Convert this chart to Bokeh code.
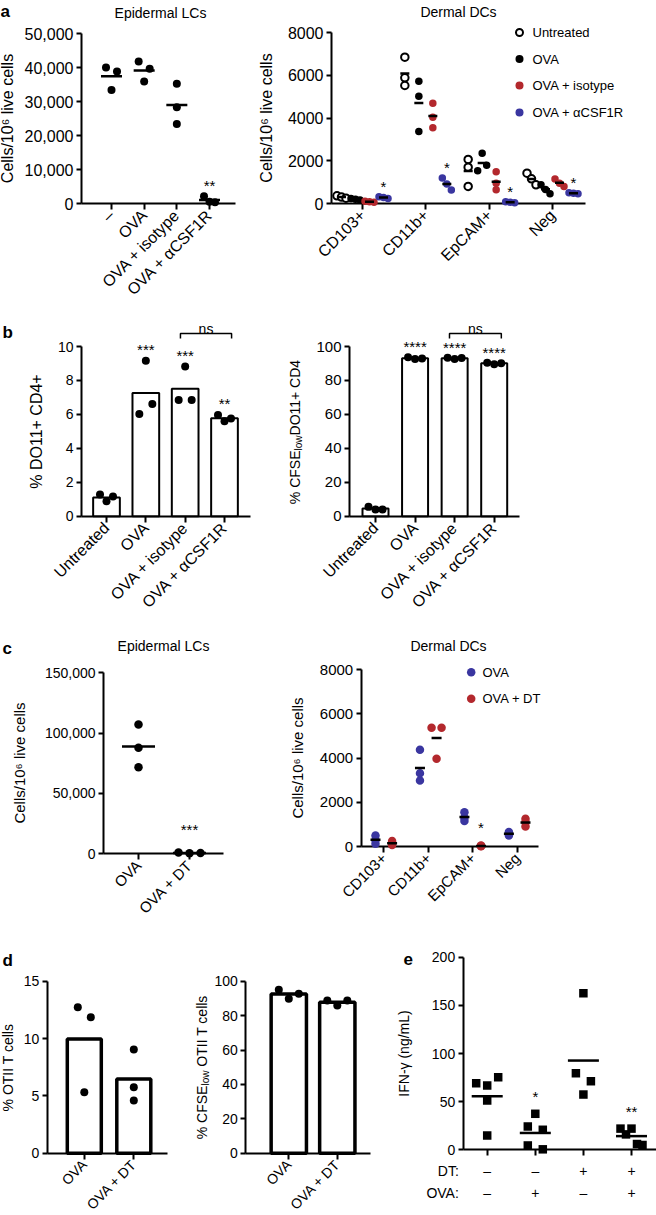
import math
from bokeh.plotting import figure
from bokeh.models import Range1d, FixedTicker, Label, LinearAxis, NumeralTickFormatter
from bokeh.layouts import row, column
from bokeh.embed import file_html
from bokeh.resources import INLINE
from bokeh.core.properties import value

FONT = "Liberation Sans"
RED = "#B3282D"
BLUE = "#3A36A0"

# ================= DATA =================
# (a) Epidermal LCs (cells / 10^6 live cells)
a_lc_groups = ["–", "OVA", "OVA + isotype", "OVA + αCSF1R"]
a_lc_cells = [[40000, 38800, 33400], [41800, 39600, 35900], [35200, 28300, 23400], [2150, 500, 400]]
a_lc_sig = ["", "", "", "**"]
a_lc_yticks = [0, 10000, 20000, 30000, 40000, 50000]

# (a) Dermal DCs
a_dc_cats = ["CD103+", "CD11b+", "EpCAM+", "Neg"]
a_dc_series = ["Untreated", "OVA", "OVA + isotype", "OVA + αCSF1R"]
a_dc_untreated = [[360, 300, 250], [6845, 5880, 5520], [2060, 1700, 800], [1420, 1155, 875]]
a_dc_ova = [[235, 200, 160], [5720, 5020, 3370], [2355, 1530, 1790], [875, 655, 455]]
a_dc_isotype = [[100, 80, 60], [4690, 4040, 3540], [1480, 950, 640], [1150, 950, 800]]
a_dc_acsf1r = [[310, 280, 235], [1190, 910, 630], [80, 60, 40], [500, 480, 460]]
a_dc_acsf1r_sig = ["*", "*", "*", "*"]
a_dc_yticks = [0, 2000, 4000, 6000, 8000]

# (b) T-cell responses
b_groups = ["Untreated", "OVA", "OVA + isotype", "OVA + αCSF1R"]
b_do11 = [[1.28, 0.88, 1.16], [6.02, 9.16, 6.61], [6.85, 8.82, 6.85], [5.96, 5.59, 5.76]]
b_do11_sig = ["", "***", "***", "**"]
b_do11_yticks = [0, 2, 4, 6, 8, 10]
b_cfse = [[5.5, 3.9, 4.0], [93.6, 92.6, 93.0], [93.4, 92.6, 93.2], [90.4, 89.6, 90.2]]
b_cfse_sig = ["", "****", "****", "****"]
b_cfse_yticks = [0, 20, 40, 60, 80, 100]

# (c) Epidermal LCs / Dermal DCs with DT
c_lc_groups = ["OVA", "OVA + DT"]
c_lc_cells = [[107150, 87850, 71770], [1000, 400, 700]]
c_lc_sig = ["", "***"]
c_lc_yticks = [0, 50000, 100000, 150000]

c_dc_cats = ["CD103+", "CD11b+", "EpCAM+", "Neg"]
c_dc_series = ["OVA", "OVA + DT"]
c_dc_ova = [[500, 280, 120], [4370, 2980, 3310], [1550, 1300, 1150], [650, 580, 500]]
c_dc_dt = [[250, 130, 70], [5365, 5365, 3970], [40, 20, 10], [1250, 1100, 900]]
c_dc_dt_sig = ["", "", "*", ""]
c_dc_yticks = [0, 2000, 4000, 6000, 8000]

# (d) OTII T cells
d_groups = ["OVA", "OVA + DT"]
d_otii = [[12.73, 11.86, 5.32], [9.04, 5.76, 4.6]]
d_otii_yticks = [0, 5, 10, 15]
d_cfse = [[95.0, 89.8, 92.7], [88.8, 85.9, 88.8]]
d_cfse_yticks = [0, 20, 40, 60, 80, 100]

# (e) IFN-gamma
e_dt = ["–", "–", "+", "+"]
e_ova = ["–", "+", "–", "+"]
e_ifng = [[69.2, 66.8, 75.4, 51.2, 14.8], [37.4, 24.2, 20.8, 4.5, 0.5], [162.6, 79.5, 71.2, 57.4], [22, 16, 22, 6, 5]]
e_sig = ["", "*", "", "**"]
e_yticks = [0, 50, 100, 150, 200]

# ================= helpers =================
ARIAL_W = {' ': 278, '%': 889, 'C': 722, 'F': 611, 'S': 667, 'E': 667, 'l': 222, 'o': 556, 'w': 722,
           'D': 722, 'O': 778, '1': 556, '+': 584, '4': 556, 'T': 611, 'I': 278, 'c': 500, 'e': 556, 's': 500}


def text_w(t, fs):
    return sum(ARIAL_W.get(ch, 556) for ch in t) / 1000.0 * fs


def mean(v):
    return sum(v) / len(v)


class Chart:
    """Figure covering a page box; axes are pinned at the given page pixel positions."""

    def __init__(self, box, axis_x, axis_y, xcal, ycal, xend, ytop, yticks, xlabels,
                 tick_fs, cat_fs, fmt=None, cat_standoff=3, cat_orient=math.pi / 4,
                 ylabel=None, ylabel_fs=15, ylabel_standoff=6):
        x0, y0, x1, y1 = box
        w = int(x1 - x0)
        h = int(y1 - y0)
        (xa, pa), (xb, pb) = xcal
        (ya, qa), (yb, qb) = ycal
        self.sx = (pb - pa) / (xb - xa)
        self.sy = (qa - qb) / (yb - ya)
        sx, sy = self.sx, self.sy
        self.X = lambda px: xa + (px - pa) / sx
        self.Y = lambda py: ya + (qa - py) / sy
        self.PY = lambda v: qa - (v - ya) * sy
        p = figure(width=w, height=h,
                   x_range=Range1d(self.X(x0), self.X(x0 + w)),
                   y_range=Range1d(self.Y(y0 + h), self.Y(y0)),
                   min_border_left=0, min_border_right=0, min_border_top=0, min_border_bottom=0,
                   output_backend="svg", toolbar_location=None, tools="")
        p.xgrid.visible = False
        p.ygrid.visible = False
        p.outline_line_color = None
        p.background_fill_color = "white"
        p.border_fill_color = "white"
        for ax in p.axis:
            ax.major_label_text_font = FONT
            ax.major_label_text_color = "black"
            ax.minor_tick_line_color = None
            ax.major_tick_line_color = "black"
            ax.major_tick_line_width = 2
            ax.axis_line_width = 2
            ax.axis_line_color = "black"
            ax.level = "underlay"
        xax = p.xaxis[0]
        xax.fixed_location = 0
        xax.bounds = (self.X(axis_x), self.X(xend))
        xax.ticker = FixedTicker(ticks=list(range(len(xlabels))))
        xax.major_label_overrides = {i: t for i, t in enumerate(xlabels)}
        xax.major_label_orientation = cat_orient
        xax.major_label_text_font_size = f"{cat_fs}px"
        xax.major_tick_in = 0
        xax.major_tick_out = 6
        xax.major_label_standoff = cat_standoff
        yax = p.yaxis[0]
        yax.fixed_location = self.X(axis_x)
        yax.ticker = FixedTicker(ticks=yticks)
        yax.bounds = (0, ytop)
        yax.major_tick_in = 0
        yax.major_tick_out = 5
        yax.major_label_standoff = 3
        yax.major_label_text_font_size = f"{tick_fs}px"
        if fmt:
            yax.formatter = NumeralTickFormatter(format=fmt)
        if ylabel:
            yax.axis_label = ylabel
            yax.axis_label_text_font = FONT
            yax.axis_label_text_font_style = "normal"
            yax.axis_label_text_font_size = f"{ylabel_fs}px"
            yax.axis_label_text_color = "black"
            yax.axis_label_standoff = ylabel_standoff
        self.p = p

    def swarm(self, vals, window, d, maxw):
        px = [self.PY(v) for v in vals]
        order = sorted(range(len(vals)), key=lambda i: px[i])
        clusters = [[order[0]]]
        for i in order[1:]:
            if px[i] - px[clusters[-1][-1]] < window:
                clusters[-1].append(i)
            else:
                clusters.append([i])
        offs = [0.0] * len(vals)
        for c in clusters:
            if len(c) < 2:
                continue
            c = sorted(c)
            W = min(maxw, d * (len(c) - 1))
            for k, i in enumerate(c):
                offs[i] = (-W / 2 + W * k / (len(c) - 1)) / self.sx
        return offs

    def dots(self, centers, groups, size, color, window, d, maxw, marker="circle", ring=False):
        xs, ys = [], []
        for c, vals in zip(centers, groups):
            for v, o in zip(vals, self.swarm(vals, window, d, maxw)):
                xs.append(c + o)
                ys.append(v)
        if ring:
            self.p.scatter(x=xs, y=ys, size=size, marker=marker, fill_color="white", line_color=color, line_width=2)
        else:
            self.p.scatter(x=xs, y=ys, size=size, marker=marker, fill_color=color, line_color=None)

    def means(self, centers, groups, half_px, lw=2.5):
        hw = half_px / self.sx
        ms = [mean(v) for v in groups]
        self.p.segment(x0=[c - hw for c in centers], x1=[c + hw for c in centers], y0=ms, y1=ms,
                       line_color="black", line_width=lw)

    def bars(self, centers, groups, width_px, lw):
        ms = [mean(v) for v in groups]
        self.p.vbar(x=list(centers), top=ms, bottom=0, width=width_px / self.sx,
                    fill_color="white", line_color="black", line_width=lw)

    def stars(self, centers, groups, sig, off_px, fs=15, bars=False):
        xs, ys, ts = [], [], []
        for c, vals, s in zip(centers, groups, sig):
            if not s:
                continue
            top = max(vals)
            if bars:
                top = max(top, mean(vals))
            cy = self.PY(top) - off_px
            xs.append(c)
            ys.append(self.Y(cy + 0.17 * fs))
            ts.append(s)
        self.p.text(x=xs, y=ys, text=ts, text_font=value(FONT), text_font_size=value(f"{fs}px"),
                    text_align="center", text_baseline="alphabetic", text_color="black")

    def label(self, px, py, text, fs, align="center", baseline="middle", angle=0.0, bold=False):
        self.p.add_layout(Label(x=self.X(px), y=self.Y(py), text=text, text_font=FONT,
                                text_font_size=f"{fs}px", text_align=align, text_baseline=baseline,
                                angle=angle, text_font_style="bold" if bold else "normal",
                                text_color="black"))

    def ylabel_parts(self, cx, cy, parts, fs, sub_fs):
        ws = []
        for t, sub, gap in parts:
            ws.append((gap * fs, text_w(t, sub_fs if sub else fs)))
        L = sum(g + w for g, w in ws)
        pos = cy + L / 2
        for (t, sub, gap), (g, w) in zip(parts, ws):
            pos -= g
            self.label(cx + (4 if sub else 0), pos, t, sub_fs if sub else fs, align="left", angle=math.pi / 2)
            pos -= w

    def bracket(self, xl, xr, py_top, tip, text, fs=14):
        yt, yb = self.Y(py_top), self.Y(py_top + tip)
        self.p.line(x=[xl, xl, xr, xr], y=[yb, yt, yt, yb], line_color="black", line_width=1.5)
        self.p.add_layout(Label(x=(xl + xr) / 2, y=self.Y(py_top - 5), text=text, text_font=FONT,
                                text_font_size=f"{fs}px", text_align="center", text_baseline="alphabetic",
                                text_color="black"))

    def legend(self, mx, tx, ys, names, styles, fs=13, size=8):
        for y, name, (color, ring) in zip(ys, names, styles):
            if ring:
                self.p.scatter(x=[self.X(mx)], y=[self.Y(y)], size=size - 1, fill_color="white",
                               line_color=color, line_width=2)
            else:
                self.p.scatter(x=[self.X(mx)], y=[self.Y(y)], size=size, fill_color=color, line_color=None)
            self.label(tx, y, name, fs, align="left")


CELLS = "Cells/10⁶ live cells"

# ================= (a) =================
A1 = Chart(box=(0, 0, 258, 306), axis_x=81, axis_y=203, xcal=((0, 111), (3, 209)),
           ycal=((0, 203), (50000, 33)), xend=235, ytop=50000, yticks=a_lc_yticks,
           xlabels=a_lc_groups, tick_fs=16, cat_fs=16, fmt="0,0",
           ylabel=CELLS, ylabel_fs=16, ylabel_standoff=6)
gA1 = list(range(len(a_lc_groups)))
A1.dots(gA1, a_lc_cells, 8, "black", window=10, d=11, maxw=11)
A1.means(gA1, a_lc_cells, half_px=10.5)
A1.stars(gA1, a_lc_cells, a_lc_sig, off_px=13)
A1.label(160, 12, "Epidermal LCs", 14)
A1.label(0, 11, "a", 17, align="left", baseline="alphabetic", bold=True)

A2 = Chart(box=(258, 0, 656, 306), axis_x=331, axis_y=203, xcal=((0, 362), (3, 552)),
           ycal=((0, 203), (8000, 32)), xend=585, ytop=8000, yticks=a_dc_yticks,
           xlabels=a_dc_cats, tick_fs=16, cat_fs=16,
           ylabel=CELLS, ylabel_fs=16, ylabel_standoff=10)
cats = list(range(len(a_dc_cats)))
a_series_data = [a_dc_untreated, a_dc_ova, a_dc_isotype, a_dc_acsf1r]
a_styles = [("black", True), ("black", False), (RED, False), (BLUE, False)]
a_off = [-21, -7, 7, 21]
for data, (col, ring), off in zip(a_series_data, a_styles, a_off):
    A2.dots([c + off / A2.sx for c in cats], data, 7.5, col, window=6, d=9, maxw=9, ring=ring)
for data, off in zip(a_series_data, a_off):
    A2.means([c + off / A2.sx for c in cats], data, half_px=4.5)
A2.stars([c + a_off[3] / A2.sx for c in cats], a_dc_acsf1r, a_dc_acsf1r_sig, off_px=13)
A2.label(458, 11, "Dermal DCs", 14)
A2.legend(519, 532, [32, 58.5, 85, 112], a_dc_series, a_styles, fs=13)

# ================= (b) =================
B1 = Chart(box=(0, 306, 280, 622), axis_x=81, axis_y=515.7, xcal=((0, 106), (3, 224)),
           ycal=((0, 515.7), (10, 346)), xend=250, ytop=10, yticks=b_do11_yticks,
           xlabels=b_groups, tick_fs=14, cat_fs=16,
           ylabel="% DO11+ CD4+", ylabel_fs=16, ylabel_standoff=10)
gB = list(range(len(b_groups)))
B1.bars(gB, b_do11, 26.7, 2)
B1.dots(gB, b_do11, 8, "black", window=12, d=13, maxw=13)
B1.stars(gB, b_do11, b_do11_sig, off_px=14, bars=True)
B1.bracket(2 - 0.12, 3 + 0.18, 333, 5, "ns")
B1.label(2, 332, "b", 17, align="left", baseline="alphabetic", bold=True)

B2 = Chart(box=(280, 306, 656, 622), axis_x=349, axis_y=515.7, xcal=((0, 375), (3, 493.7)),
           ycal=((0, 515.7), (100, 346)), xend=519.3, ytop=100, yticks=b_cfse_yticks,
           xlabels=b_groups, tick_fs=15, cat_fs=16)
B2.bars(gB, b_cfse, 26, 2)
B2.dots(gB, b_cfse, 8, "black", window=12, d=7, maxw=14)
B2.stars(gB, b_cfse, b_cfse_sig, off_px=13, bars=True)
B2.bracket(2 - 0.13, 3 + 0.18, 333, 5, "ns")
B2.ylabel_parts(294, 431, [("% CFSE", False, 0), ("low", True, 0), ("DO11+ CD4", False, 0)], 14, 10)

# ================= (c) =================
C1 = Chart(box=(0, 622, 283, 940), axis_x=103, axis_y=853.3, xcal=((0, 138), (1, 189)),
           ycal=((0, 853.3), (150000, 672.3)), xend=223, ytop=150000, yticks=c_lc_yticks,
           xlabels=c_lc_groups, tick_fs=14, cat_fs=15, fmt="0,0",
           ylabel=CELLS, ylabel_fs=15, ylabel_standoff=14)
gC1 = list(range(len(c_lc_groups)))
C1.dots(gC1, c_lc_cells, 8.5, "black", window=10, d=11, maxw=22)
C1.means(gC1, c_lc_cells, half_px=16.5)
C1.stars(gC1, c_lc_cells, c_lc_sig, off_px=26)
C1.label(163, 645, "Epidermal LCs", 14)
C1.label(2, 648, "c", 17, align="left", baseline="alphabetic", bold=True)

C2 = Chart(box=(283, 622, 656, 940), axis_x=360.7, axis_y=846, xcal=((0, 383.3), (3, 516.7)),
           ycal=((0, 846), (8000, 669)), xend=538.3, ytop=8000, yticks=c_dc_yticks,
           xlabels=c_dc_cats, tick_fs=15, cat_fs=15,
           ylabel=CELLS, ylabel_fs=15, ylabel_standoff=11)
cc = list(range(len(c_dc_cats)))
c_series_data = [c_dc_ova, c_dc_dt]
c_styles = [(BLUE, False), (RED, False)]
c_off = [-8.3, 8.3]
for data, (col, ring), off in zip(c_series_data, c_styles, c_off):
    C2.dots([c + off / C2.sx for c in cc], data, 8.5, col, window=0.1, d=10, maxw=10)
for data, off in zip(c_series_data, c_off):
    C2.means([c + off / C2.sx for c in cc], data, half_px=5)
C2.stars([c + c_off[1] / C2.sx for c in cc], c_dc_dt, c_dc_dt_sig, off_px=21)
C2.label(448, 645, "Dermal DCs", 14)
C2.legend(470.7, 482, [671.7, 698.3], c_dc_series, c_styles, fs=13, size=8.5)

# ================= (d) =================
D1 = Chart(box=(0, 940, 190, 1215), axis_x=46.7, axis_y=1152.7, xcal=((0, 83.8), (1, 133.3)),
           ycal=((0, 1152.7), (15, 980.7)), xend=166.7, ytop=15, yticks=d_otii_yticks,
           xlabels=d_groups, tick_fs=14, cat_fs=14, cat_standoff=3,
           ylabel="% OTII T cells", ylabel_fs=14, ylabel_standoff=5)
gD = list(range(len(d_groups)))
D1.bars(gD, d_otii, 34, 3.5)
D1.dots(gD, d_otii, 8, "black", window=12, d=13, maxw=13)
D1.label(2, 960, "d", 17, align="left", baseline="alphabetic", bold=True)

D2 = Chart(box=(190, 940, 390, 1215), axis_x=245.3, axis_y=1152.7, xcal=((0, 288.3), (1, 336.8)),
           ycal=((0, 1152.7), (100, 980.7)), xend=370, ytop=100, yticks=d_cfse_yticks,
           xlabels=d_groups, tick_fs=14, cat_fs=14, cat_standoff=3)
D2.bars(gD, d_cfse, 35.3, 3.5)
D2.dots(gD, d_cfse, 8, "black", window=12, d=10, maxw=20)
D2.ylabel_parts(201, 1066.7, [("% CFSE", False, 0), ("low", True, 0), ("OTII T cells", False, 0.278)], 14, 10)

# ================= (e) =================
E = Chart(box=(390, 940, 656, 1215), axis_x=462.7, axis_y=1149.3, xcal=((0, 486.7), (3, 631)),
          ycal=((0, 1149.3), (200, 956.7)), xend=656, ytop=200, yticks=e_yticks,
          xlabels=e_dt, tick_fs=14, cat_fs=14, cat_standoff=7, cat_orient="horizontal",
          ylabel="IFN-γ (ng/mL)", ylabel_fs=14, ylabel_standoff=17)
gE = list(range(len(e_dt)))
E.dots(gE, e_ifng, 8.5, "black", window=10, d=15, maxw=22, marker="square")
E.means(gE, e_ifng, half_px=15.5)
E.stars(gE, e_ifng, e_sig, off_px=20)
ax2 = LinearAxis(ticker=FixedTicker(ticks=gE), major_label_overrides={i: t for i, t in enumerate(e_ova)},
                 axis_line_color=None, major_tick_line_color=None, minor_tick_line_color=None,
                 major_tick_in=0, major_tick_out=0, major_label_standoff=35,
                 major_label_text_font=FONT, major_label_text_font_size="14px",
                 major_label_text_color="black", major_label_orientation="horizontal",
                 fixed_location=0, level="underlay")
E.p.add_layout(ax2, "below")
E.label(458.3, 1170, "DT:", 14, align="right")
E.label(458.3, 1192.7, "OVA:", 14, align="right")
E.label(403, 958, "e", 17, align="left", baseline="alphabetic", bold=True)

layout = column(row(A1.p, A2.p), row(B1.p, B2.p), row(C1.p, C2.p), row(D1.p, D2.p, E.p))
open("out.html", "w").write(file_html(layout, INLINE, "Figure"))
